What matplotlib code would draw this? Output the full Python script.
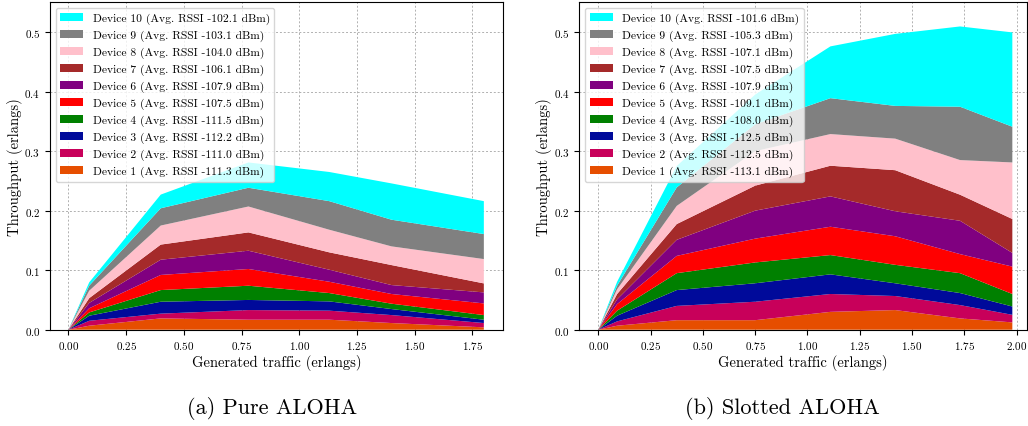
import numpy as np
import matplotlib
matplotlib.use('Agg')
from matplotlib import pyplot as plt

plt.rcParams['font.family'] = 'serif'
plt.rcParams['font.serif'] = ['cmr10']
plt.rcParams['mathtext.fontset'] = 'cm'
plt.rcParams['axes.formatter.use_mathtext'] = True
plt.rcParams['axes.unicode_minus'] = False

colors = ['#e64e00', '#c8005a', '#000a9a', '#008000', '#ff0000',
          '#800080', '#a52a2a', '#ffc0cb', '#808080', '#00ffff']

# pure aloha
pure_x = [0.0, 0.09, 0.4, 0.78, 1.13, 1.4, 1.8]
pure_rssi = [-111.3, -111.0, -112.2, -111.5, -107.5, -107.9, -106.1, -104.0, -103.1, -102.1]
# cumulative tops per device (1..10) at each x
pure_cum = [
    [0.0, 0.0067, 0.019, 0.0168, 0.0168, 0.0112, 0.004],
    [0.0, 0.015, 0.027, 0.033, 0.032, 0.0246, 0.0112],
    [0.0, 0.0235, 0.047, 0.050, 0.0476, 0.0347, 0.0168],
    [0.0, 0.029, 0.0666, 0.0739, 0.0616, 0.0437, 0.0246],
    [0.0, 0.036, 0.092, 0.102, 0.0806, 0.060, 0.0442],
    [0.0, 0.045, 0.1176, 0.1327, 0.1008, 0.075, 0.0627],
    [0.0, 0.053, 0.143, 0.1635, 0.130, 0.1086, 0.0778],
    [0.0, 0.0655, 0.175, 0.207, 0.168, 0.140, 0.1187],
    [0.0, 0.074, 0.204, 0.2385, 0.216, 0.1848, 0.1607],
    [0.0, 0.0795, 0.227, 0.281, 0.265, 0.2458, 0.216],
]

# slotted aloha
slot_x = [0.0, 0.09, 0.375, 0.75, 1.11, 1.42, 1.73, 1.98]
slot_rssi = [-113.1, -112.5, -112.5, -108.0, -109.1, -107.9, -107.5, -107.1, -105.3, -101.6]
slot_cum = [
    [0.0, 0.0067, 0.016, 0.016, 0.030, 0.033, 0.019, 0.0123],
    [0.0, 0.014, 0.040, 0.047, 0.060, 0.0566, 0.0414, 0.025],
    [0.0, 0.0235, 0.0666, 0.078, 0.093, 0.078, 0.0616, 0.039],
    [0.0, 0.032, 0.095, 0.113, 0.1254, 0.109, 0.095, 0.060],
    [0.0, 0.043, 0.124, 0.153, 0.173, 0.157, 0.127, 0.106],
    [0.0, 0.051, 0.151, 0.200, 0.224, 0.199, 0.183, 0.129],
    [0.0, 0.060, 0.1775, 0.242, 0.2755, 0.268, 0.2268, 0.186],
    [0.0, 0.068, 0.208, 0.300, 0.3287, 0.321, 0.285, 0.281],
    [0.0, 0.074, 0.239, 0.345, 0.389, 0.376, 0.3746, 0.341],
    [0.0, 0.0806, 0.275, 0.395, 0.476, 0.497, 0.5095, 0.4995],
]


def layers(cum):
    cum = np.array(cum)
    return np.vstack([cum[0], np.diff(cum, axis=0)])


def draw(ax, x, cum, rssi, xlim, xticks):
    labels = [f'Device {i + 1} (Avg. RSSI {r:.1f} dBm)' for i, r in enumerate(rssi)]
    ax.stackplot(x, layers(cum), colors=colors, labels=labels)
    ax.set_axisbelow(True)
    ax.grid(True, linestyle=(0, (2, 2)), color='#b0b0b0', linewidth=0.7)
    ax.set_xlim(*xlim)
    ax.set_ylim(0, 0.55)
    ax.set_xticks(xticks)
    ax.set_yticks([0.0, 0.1, 0.2, 0.3, 0.4, 0.5])
    ax.tick_params(labelsize=8)
    ax.set_xlabel('Generated traffic (erlangs)', fontsize=10.5, labelpad=2)
    ax.set_ylabel('Throughput (erlangs)', fontsize=10.5, labelpad=1)
    h, l = ax.get_legend_handles_labels()
    ax.legend(h[::-1], l[::-1], loc='upper left', fontsize=8.3, framealpha=0.8)


fig = plt.figure(figsize=(10.28, 4.27), dpi=100)
ax1 = fig.add_axes([0.0486, 0.2255, 0.4407, 0.7667])
ax2 = fig.add_axes([0.5635, 0.2255, 0.4355, 0.7667])

draw(ax1, pure_x, pure_cum, pure_rssi, (-0.08, 1.883), np.arange(0, 1.76, 0.25))
draw(ax2, slot_x, slot_cum, slot_rssi, (-0.091, 2.05), np.arange(0, 2.01, 0.25))

fig.text(0.265, 0.03, '(a) Pure ALOHA', fontsize=16, ha='center')
fig.text(0.7615, 0.03, '(b) Slotted ALOHA', fontsize=16, ha='center')

plt.savefig('out.png', dpi=100)
